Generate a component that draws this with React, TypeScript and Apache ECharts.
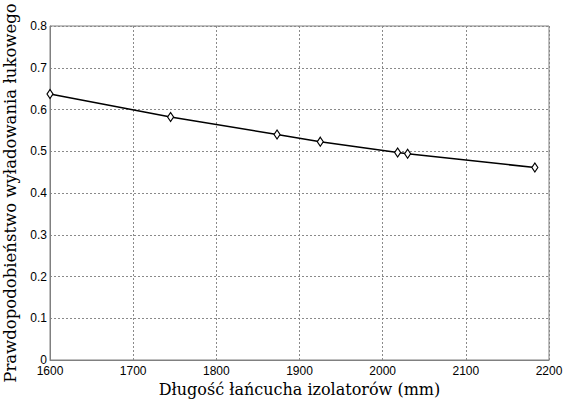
import React, { useEffect, useRef } from "react";
import * as echarts from "echarts";

const lengths = [1600, 1745, 1873, 1925, 2018, 2030, 2183];
const probabilities = [0.637, 0.582, 0.540, 0.523, 0.497, 0.494, 0.461];
const xTitle = "Długość łańcucha izolatorów (mm)";
const yTitle = "Prawdopodobieństwo wyładowania łukowego";

export default function App() {
  const ref = useRef<HTMLDivElement>(null);
  useEffect(() => {
    if (!ref.current) return;
    const chart = echarts.init(ref.current, undefined, { renderer: "svg" });
    const gridLine = { show: true, lineStyle: { color: "#8a8a8a", type: [2, 2] as any, width: 1 } };
    chart.setOption({
      animation: false,
      backgroundColor: "#ffffff",
      grid: {
        left: 50, right: 17, top: 26, bottom: 39,
        show: true, borderColor: "#808080", borderWidth: 1,
        containLabel: false, outerBoundsMode: "none",
      },
      xAxis: {
        type: "value",
        min: 1600,
        max: 2200,
        interval: 100,
        name: xTitle,
        nameLocation: "middle",
        nameGap: 17,
        nameTextStyle: { fontFamily: "DejaVu Serif", fontSize: 16, color: "#000" },
        axisLine: { show: true, lineStyle: { color: "#808080" } },
        axisTick: { show: false },
        axisLabel: { color: "#000", fontFamily: "Liberation Sans", fontSize: 12, margin: 5, formatter: (v: number) => String(v) },
        splitLine: gridLine,
      },
      yAxis: {
        type: "value",
        min: 0,
        max: 0.8,
        interval: 0.1,
        name: yTitle,
        nameLocation: "middle",
        nameGap: 23,
        nameTextStyle: { fontFamily: "DejaVu Serif", fontSize: 16.5, color: "#000" },
        axisLine: { show: true, lineStyle: { color: "#808080" } },
        axisTick: { show: false },
        axisLabel: { color: "#000", fontFamily: "Liberation Sans", fontSize: 12, margin: 3, formatter: (v: number) => String(Math.round(v * 10) / 10) },
        splitLine: gridLine,
      },
      series: [
        {
          type: "line",
          data: lengths.map((x, i) => [x, probabilities[i]]),
          symbol: "diamond",
          symbolSize: [6, 9],
          showAllSymbol: true,
          itemStyle: { color: "#ffffff", borderColor: "#000", borderWidth: 1.2 },
          lineStyle: { color: "#000", width: 1.5 },
        },
      ],
    });
    return () => chart.dispose();
  }, []);
  return <div ref={ref} style={{ position: "fixed", left: 0, top: 0, width: 566, height: 399 }} />;
}
